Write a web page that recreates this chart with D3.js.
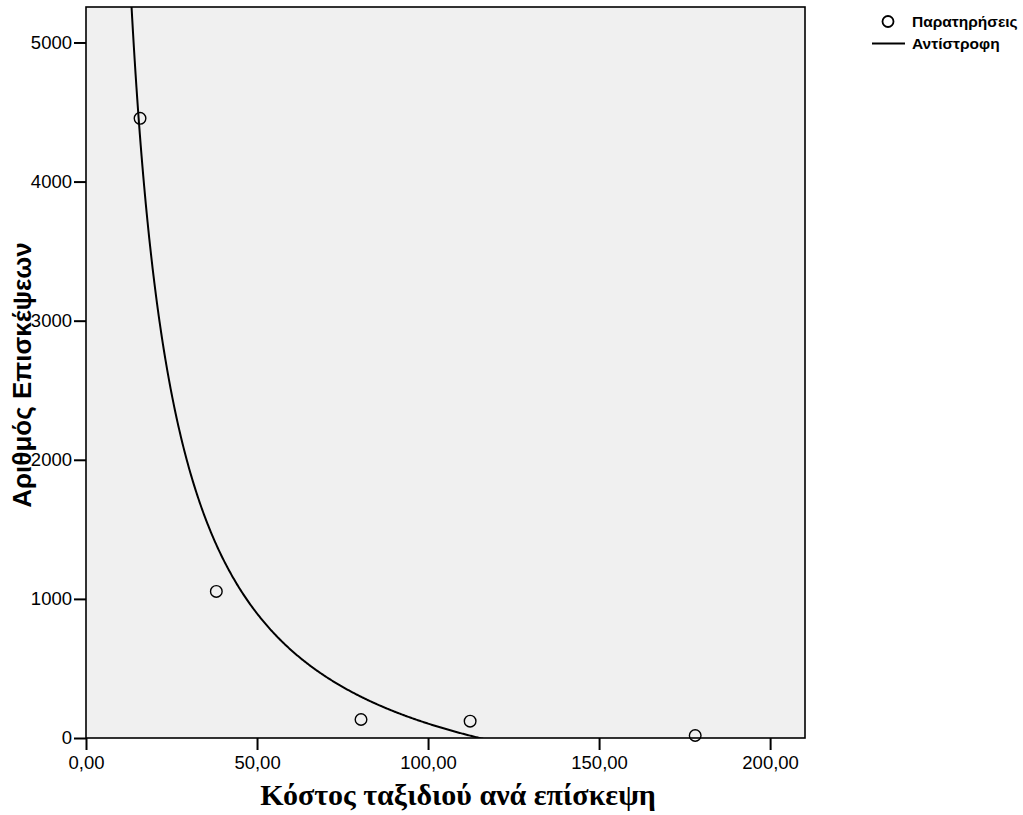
<!DOCTYPE html>
<html>
<head>
<meta charset="utf-8">
<script src="https://cdn.jsdelivr.net/npm/d3@7"></script>
<style>
  body { margin: 0; background: #fff; }
  text { font-family: Arial, "Liberation Sans", sans-serif; }
</style>
</head>
<body>
<script>
// Observations (cost per visit, number of visits)
var costs  = [15.8, 38.1, 80.4, 112.3, 178.1];
var visits = [4455, 1054, 133, 121, 18];

var xTicks = [0, 50, 100, 150, 200];
var yTicks = [0, 1000, 2000, 3000, 4000, 5000];

var legendLabels = ["Παρατηρήσεις", "Αντίστροφη"];
var xTitle = "Κόστος ταξιδιού ανά επίσκεψη";
var yTitle = "Αριθμός Επισκέψεων";

var width = 1023,
    height = 815;

var plot = {left: 86, right: 805, top: 7, bottom: 738};

var x = d3.scaleLinear().domain([0, 210.2]).range([plot.left, plot.right]);
var y = d3.scaleLinear().domain([0, 5255]).range([plot.bottom, plot.top]);

var svg = d3.select("body").append("svg")
    .attr("width", width)
    .attr("height", height);

// Inverse model y = b0 + b1 / x, least squares on 1/x
var u = costs.map(function(c) { return 1 / c; });
var uMean = d3.mean(u), vMean = d3.mean(visits);
var sxy = d3.sum(u, function(d, i) { return (d - uMean) * (visits[i] - vMean); });
var sxx = d3.sum(u, function(d) { return (d - uMean) * (d - uMean); });
var b1 = sxy / sxx,
    b0 = vMean - b1 * uMean;

// plot background
svg.append("rect")
    .attr("x", plot.left).attr("y", plot.top)
    .attr("width", plot.right - plot.left)
    .attr("height", plot.bottom - plot.top)
    .attr("fill", "#f0f0f0");

svg.append("clipPath").attr("id", "clip")
  .append("rect")
    .attr("x", plot.left).attr("y", plot.top)
    .attr("width", plot.right - plot.left)
    .attr("height", plot.bottom - plot.top);

// fitted curve
var curveX = d3.range(2, 210.2, 0.25);
var line = d3.line()
    .x(function(d) { return x(d); })
    .y(function(d) { return y(b0 + b1 / d); });

svg.append("path")
    .datum(curveX)
    .attr("clip-path", "url(#clip)")
    .attr("d", line)
    .attr("fill", "none")
    .attr("stroke", "#000")
    .attr("stroke-width", 2);

// observations
svg.append("g").selectAll("circle")
    .data(costs)
  .enter().append("circle")
    .attr("cx", function(d) { return x(d); })
    .attr("cy", function(d, i) { return y(visits[i]); })
    .attr("r", 5.8)
    .attr("fill", "none")
    .attr("stroke", "#000")
    .attr("stroke-width", 1.4);

// frame
svg.append("rect")
    .attr("x", plot.left).attr("y", plot.top)
    .attr("width", plot.right - plot.left)
    .attr("height", plot.bottom - plot.top)
    .attr("fill", "none")
    .attr("stroke", "#000")
    .attr("stroke-width", 1.6);

// axes
var commaFmt = d3.formatLocale({decimal: ",", thousands: ".", grouping: [3], currency: ["", "€"]}).format(".2f");

var xAxis = svg.append("g")
    .attr("transform", "translate(0," + plot.bottom + ")")
    .call(d3.axisBottom(x).tickValues(xTicks).tickFormat(commaFmt)
        .tickSize(12).tickSizeOuter(0).tickPadding(6));

var yAxis = svg.append("g")
    .attr("transform", "translate(" + plot.left + ",0)")
    .call(d3.axisLeft(y).tickValues(yTicks).tickFormat(d3.format("d"))
        .tickSize(12).tickSizeOuter(0).tickPadding(2));

[xAxis, yAxis].forEach(function(a) {
  a.select(".domain").remove();
  a.selectAll("line").attr("stroke", "#000").attr("stroke-width", 2);
  a.selectAll("text")
      .attr("fill", "#000")
      .style("font-family", "Arial, 'Liberation Sans', sans-serif")
      .style("font-size", "18.5px");
});

// axis titles
svg.append("text")
    .attr("x", 458).attr("y", 805)
    .attr("text-anchor", "middle")
    .style("font-family", "'Times New Roman', 'Liberation Serif', serif")
    .style("font-weight", "bold")
    .style("font-size", "30px")
    .text(xTitle);

svg.append("text")
    .attr("transform", "translate(31,375) rotate(-90)")
    .attr("text-anchor", "middle")
    .style("font-weight", "bold")
    .style("font-size", "26px")
    .text(yTitle);

// legend
var legend = svg.append("g").attr("class", "legend");
legend.append("circle")
    .attr("cx", 888).attr("cy", 21.5).attr("r", 5.5)
    .attr("fill", "none").attr("stroke", "#000").attr("stroke-width", 1.8);
legend.append("line")
    .attr("x1", 872).attr("x2", 905).attr("y1", 43.5).attr("y2", 43.5)
    .attr("stroke", "#000").attr("stroke-width", 2);
legend.selectAll(".label")
    .data(legendLabels)
  .enter().append("text")
    .attr("class", "label")
    .attr("x", 912)
    .attr("y", function(d, i) { return 27 + i * 22; })
    .style("font-weight", "bold")
    .style("font-size", "15.5px")
    .text(function(d) { return d; });
</script>
</body>
</html>
